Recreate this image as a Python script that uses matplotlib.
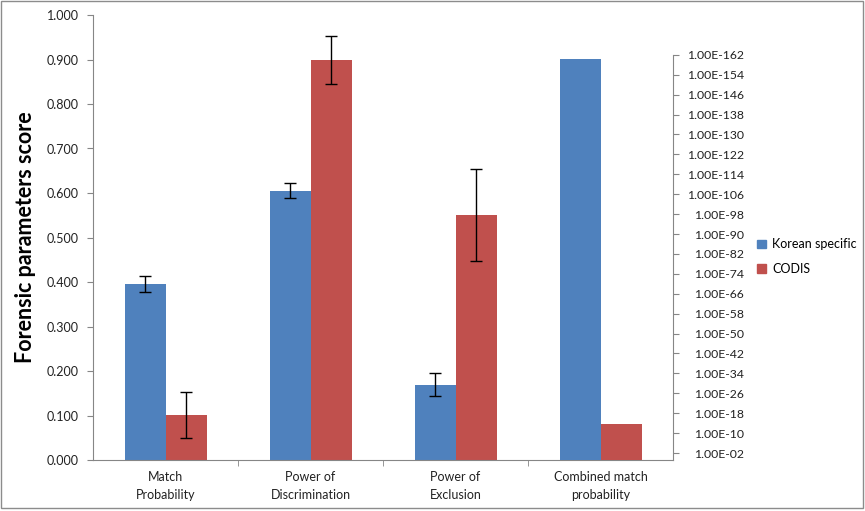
import numpy as np
import matplotlib
matplotlib.use('Agg')
import matplotlib.pyplot as plt
from matplotlib.patches import Rectangle, Patch

plt.rcParams['font.family'] = ['Lato', 'DejaVu Sans']

categories = ['Match\nProbability', 'Power of\nDiscrimination',
              'Power of\nExclusion', 'Combined match\nprobability']
series = ['Korean specific', 'CODIS']

# primary axis (first three categories)
korean = [0.395, 0.605, 0.169]
korean_err = [0.018, 0.017, 0.026]
codis = [0.101, 0.899, 0.551]
codis_err = [0.052, 0.053, 0.104]

# secondary log axis (combined match probability)
combined_korean = 4e-161
combined_codis = 2e-14
right_exps = list(range(2, 163, 8))

blue = '#4F81BD'
red = '#C0504D'
grey = '#868686'

W, H = 865, 511
fig = plt.figure(figsize=(W / 100, H / 100), dpi=100)
ax = fig.add_axes([93 / W, (H - 460) / H, 580 / W, 445 / H])

w = 41 / 145
x = np.arange(3)
ax.bar(x - w / 2, korean, w, color=blue, yerr=korean_err,
       error_kw=dict(ecolor='black', elinewidth=1, capsize=4, capthick=1))
ax.bar(x + w / 2, codis, w, color=red, yerr=codis_err,
       error_kw=dict(ecolor='black', elinewidth=1, capsize=4, capthick=1))

ax.set_xlim(-0.5, 3.5)
ax.set_ylim(0, 1.0)
ax.set_yticks(np.arange(0, 1.001, 0.1))
ax.set_yticklabels(['%.3f' % v for v in np.arange(0, 1.001, 0.1)])
ax.set_xticks(np.arange(4))
ax.set_xticklabels(categories, fontsize=9, color='#222222', linespacing=1.6)
ax.set_xticks([0.5, 1.5, 2.5], minor=True)
ax.tick_params(axis='x', which='major', length=0, pad=8)
ax.tick_params(axis='x', which='minor', length=4, color=grey)
ax.tick_params(axis='y', length=4, color=grey, labelsize=9,
               labelcolor='#222222', pad=6)
for s in ['top', 'right']:
    ax.spines[s].set_visible(False)
for s in ['left', 'bottom']:
    ax.spines[s].set_color(grey)
ax.set_ylabel('Forensic parameters score', fontsize=15.5, fontweight='bold',
              labelpad=8)

ax2 = ax.twinx()
ax2.set_yscale('log')
base = 10 ** 0.8
ax2.set_ylim(base, 1e-178)
vals = [combined_korean, combined_codis]
ax2.bar([3 - w / 2, 3 + w / 2], [base - v for v in vals], w, bottom=vals,
        color=[blue, red])
ax2.set_xlim(-0.5, 3.5)
ax2.set_yticks([10.0 ** -e for e in right_exps])
ax2.set_yticklabels(['1.00E-%02d' % e for e in right_exps])
ax2.yaxis.set_minor_locator(matplotlib.ticker.NullLocator())
ax2.tick_params(axis='y', length=4, color=grey, labelsize=8.8,
                labelcolor='#222222', pad=47)
for lbl in ax2.get_yticklabels():
    lbl.set_horizontalalignment('right')
for s in ['top', 'left', 'bottom']:
    ax2.spines[s].set_visible(False)
ax2.spines['right'].set_color(grey)
ax2.spines['right'].set_bounds(base, 1e-162)

handles = [Patch(color=blue), Patch(color=red)]
fig.legend(handles, series, loc='upper left',
           bbox_to_anchor=(746 / W, 1 - 227 / H), frameon=False,
           fontsize=9, handlelength=0.7, handleheight=0.7,
           handletextpad=0.5, labelspacing=1.0)

fig.patches.append(Rectangle((1 / W, 3 / H), 862 / W, 507 / H,
                             transform=fig.transFigure, fill=False,
                             edgecolor='#8c8c8c', linewidth=1))

fig.savefig('out.png', dpi=100)
